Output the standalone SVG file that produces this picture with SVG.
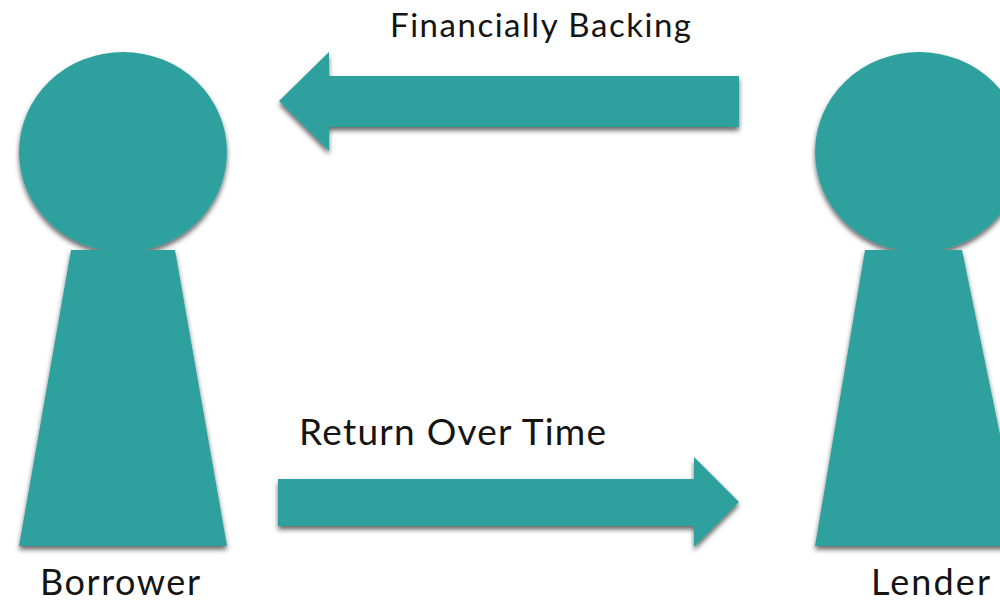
<svg xmlns="http://www.w3.org/2000/svg" width="1000" height="602" viewBox="0 0 1000 602">
<style>
.s{fill:#2fa19f}
.t{font-family:"Lato","Liberation Sans",sans-serif;fill:#141414}
</style>
<defs><filter id="d" x="-10%" y="-10%" width="120%" height="125%"><feDropShadow dx="0" dy="3.5" stdDeviation="2.5" flood-color="#000" flood-opacity=".6"/></filter></defs>
<rect width="1000" height="602" fill="#fff"/>
<g id="borrower"><ellipse class="s" filter="url(#d)" cx="123" cy="152" rx="104" ry="100"/><path class="s" filter="url(#d)" d="M71 250H175L227 546H19Z"/><text class="t" x="40" y="595" font-size="36" textLength="160" lengthAdjust="spacing">Borrower</text></g>
<g id="lender"><ellipse class="s" filter="url(#d)" cx="919" cy="152" rx="104" ry="100"/><path class="s" filter="url(#d)" d="M865 250H962L1023 546H815Z"/><text class="t" x="871" y="595" font-size="36" textLength="119" lengthAdjust="spacing">Lender</text></g>
<g id="connectors"><path class="s" filter="url(#d)" d="M739 76V127H329V151L279 101L329 52V76Z"/><path class="s" filter="url(#d)" d="M278 479H694V457L739 502L694 547V526H278Z"/></g>
<text class="t" x="390" y="37" font-size="33" textLength="301" lengthAdjust="spacing">Financially Backing</text>
<text class="t" x="299" y="445" font-size="37" textLength="307" lengthAdjust="spacing">Return Over Time</text>
</svg>
